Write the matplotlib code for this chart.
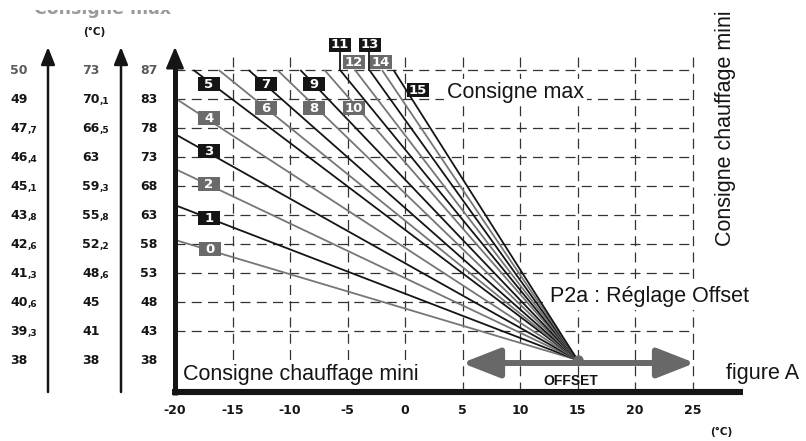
import numpy as np
import matplotlib.pyplot as plt
from matplotlib.patches import Rectangle

W, H = 806, 441

# pixel layout of the chart (x: 11.5 px per degree, y: 29 px per row)
X0_PX, PX_PER_DEG = 175, 11.5
Y0_PX, PX_PER_ROW = 360, 29


def px_x(px):
    return (px - X0_PX) / PX_PER_DEG - 20


def px_y(py):
    return (Y0_PX - py) / PX_PER_ROW


# --- data ---
outdoor_temps = [-20, -15, -10, -5, 0, 5, 10, 15, 20, 25]

# rows from top (row 10) to bottom (row 0)
setpoint_87 = ["87", "83", "78", "73", "68", "63", "58", "53", "48", "43", "38"]
setpoint_73 = ["73", "70,1", "66,5", "63", "59,3", "55,8", "52,2", "48,6", "45", "41", "38"]
setpoint_50 = ["50", "49", "47,7", "46,4", "45,1", "43,8", "42,6", "41,3", "40,6", "39,3", "38"]

curve_ids = list(range(16))
curve_start_x = [-20, -20, -20, -20, -20, -18.4, -16.2, -13.6, -11.1, -9.1,
                 -7.0, -5.65, -4.35, -3.1, -2.0, -1.0]
curve_start_row = [4.14, 5.34, 6.59, 7.79, 9.03, 10, 10, 10, 10, 10,
                   10, 10, 10, 10, 10, 10]
offset_x, offset_row = 15, 0

# tag box centres in pixels
tag_px = [(210, 249), (209, 218), (209, 184), (209, 151), (209, 118), (209, 84),
          (266, 108), (266, 84), (314, 108), (314, 84), (354, 108), (340, 45),
          (354, 62), (370, 45), (381, 62), (418, 90)]

BLACK = "#151515"
GREY = "#767676"
TAG_GREY = "#6a6a6a"
ARROW_GREY = "#686868"

fig = plt.figure(figsize=(W / 100, H / 100), dpi=100)
ax = fig.add_axes([0, 0, 1, 1])
ax.set_xlim(px_x(0), px_x(W))
ax.set_ylim(px_y(H), px_y(0))
ax.axis("off")

axis_row = px_y(392)
dash = (0, (8, 5))

# dashed grid
for t in outdoor_temps[1:]:
    ax.plot([t, t], [axis_row, px_y(57)], color="#333333", lw=0.9, ls=dash, zorder=1)
for r in range(1, 11):
    ax.plot([-20, 25], [r, r], color="#333333", lw=0.9, ls=dash, zorder=1)

# heating curves
for i in curve_ids:
    col = BLACK if i % 2 else GREY
    ax.plot([curve_start_x[i], offset_x], [curve_start_row[i], offset_row],
            color=col, lw=1.3, zorder=2, solid_capstyle="butt")

# tags
rect = [(-1, -0.6), (1, -0.6), (1, 0.6), (-1, 0.6)]
for i in curve_ids:
    tx, ty = px_x(tag_px[i][0]), px_y(tag_px[i][1])
    if i in (11, 13):
        ax.plot([curve_start_x[i], curve_start_x[i]], [10, ty], color=BLACK, lw=1.3, zorder=2)
    col = BLACK if i % 2 else TAG_GREY
    ax.plot(tx, ty, marker=rect, ms=15.8, mew=0, color=col, ls="none", zorder=3)
    ax.text(tx, ty, str(i), color="white", fontsize=9.5, fontweight="bold",
            family="DejaVu Sans", ha="center", va="center", zorder=4)

# axes
ax.plot([px_x(172), px_x(743)], [axis_row, axis_row], color=BLACK, lw=4.4,
        solid_capstyle="butt", zorder=5)
ax.plot([-20, -20], [axis_row - 0.1, px_y(66)], color=BLACK, lw=3.6,
        solid_capstyle="butt", zorder=5)


def up_arrow(x, y0, y1, lw, hw, hl):
    ax.annotate("", xy=(x, y1), xytext=(x, y0), zorder=5,
                arrowprops=dict(arrowstyle=f"-|>,head_width={hw},head_length={hl}",
                                lw=lw, color=BLACK, shrinkA=0, shrinkB=0,
                                mutation_scale=10))


up_arrow(px_x(48), axis_row, px_y(47), 1.8, 0.42, 1.05)
up_arrow(px_x(121), axis_row, px_y(47), 1.8, 0.42, 1.05)
up_arrow(-20, px_y(80), px_y(47), 1.8, 0.55, 1.3)

# offset double arrow
arr_row = px_y(363)
ax.annotate("", xy=(px_x(695), arr_row), xytext=(px_x(462), arr_row), zorder=2.5,
            arrowprops=dict(arrowstyle="<|-|>,head_width=0.9,head_length=2.3",
                            lw=4.3, color=ARROW_GREY, shrinkA=0, shrinkB=0,
                            mutation_scale=10))
ax.plot(offset_x, offset_row, "o", ms=7.5, color=ARROW_GREY, mew=0, zorder=2.6)

# left scales
fig.canvas.draw()


def put_value(x, row, s, color):
    whole, _, frac = s.partition(",")
    t = ax.text(x, row - 0.155, whole, fontsize=9, fontweight="bold", color=color,
                family="DejaVu Sans", ha="left", va="baseline")
    if frac:
        ax.annotate("," + frac, xy=(1, 0), xycoords=t, fontsize=6.5, fontweight="bold",
                    color=color, family="DejaVu Sans", ha="left", va="bottom")


for k in range(11):
    row = 10 - k
    col = "#5a5a5a" if k == 0 else BLACK
    put_value(px_x(10), row, setpoint_50[k], col)
    put_value(px_x(82), row, setpoint_73[k], col)
    put_value(px_x(140), row, setpoint_87[k], col)

# x tick labels
for t in outdoor_temps:
    ax.text(t, px_y(411), str(t), fontsize=9, fontweight="bold", color=BLACK,
            family="DejaVu Sans", ha="center", va="center")

ax.text(px_x(94), px_y(32), "(°C)", fontsize=7.5, fontweight="bold", color=BLACK,
        family="DejaVu Sans", ha="center", va="center")
ax.text(px_x(721), px_y(432), "(°C)", fontsize=7.5, fontweight="bold", color=BLACK,
        family="DejaVu Sans", ha="center", va="center")

# cropped header at the very top (only its lower edge shows)
ax.text(px_x(103), px_y(14), "Consigne max", fontsize=12.5, fontweight="bold",
        color="#9a9a9a", family="DejaVu Sans", ha="center", va="baseline")
fig.patches.append(Rectangle((0, 1 - 10 / H), 1, 10 / H, transform=fig.transFigure,
                             facecolor="white", edgecolor="none", zorder=20))

# annotations
txt = dict(fontsize=15.5, color=BLACK, family="Liberation Sans", zorder=1.5)
wbox = dict(facecolor="white", edgecolor="none", pad=2)
ax.text(px_x(447), px_y(98), "Consigne max", ha="left", va="baseline", bbox=wbox, **txt)
ax.text(px_x(550), px_y(302), "P2a : Réglage Offset", ha="left", va="baseline", bbox=wbox, **txt)
ax.text(px_x(726), px_y(379), "figure A", ha="left", va="baseline", **txt)
ax.text(px_x(183), px_y(380), "Consigne chauffage mini", ha="left", va="baseline",
        bbox=dict(facecolor="white", edgecolor="none", pad=3), **txt)
ax.text(px_x(725), px_y(128), "Consigne chauffage mini", rotation=90,
        ha="center", va="center", **txt)
ax.text(px_x(571), px_y(381), "OFFSET", fontsize=10, fontweight="bold", color=BLACK,
        family="Liberation Sans", ha="center", va="center", zorder=3)

fig.savefig("out.png", dpi=100)
